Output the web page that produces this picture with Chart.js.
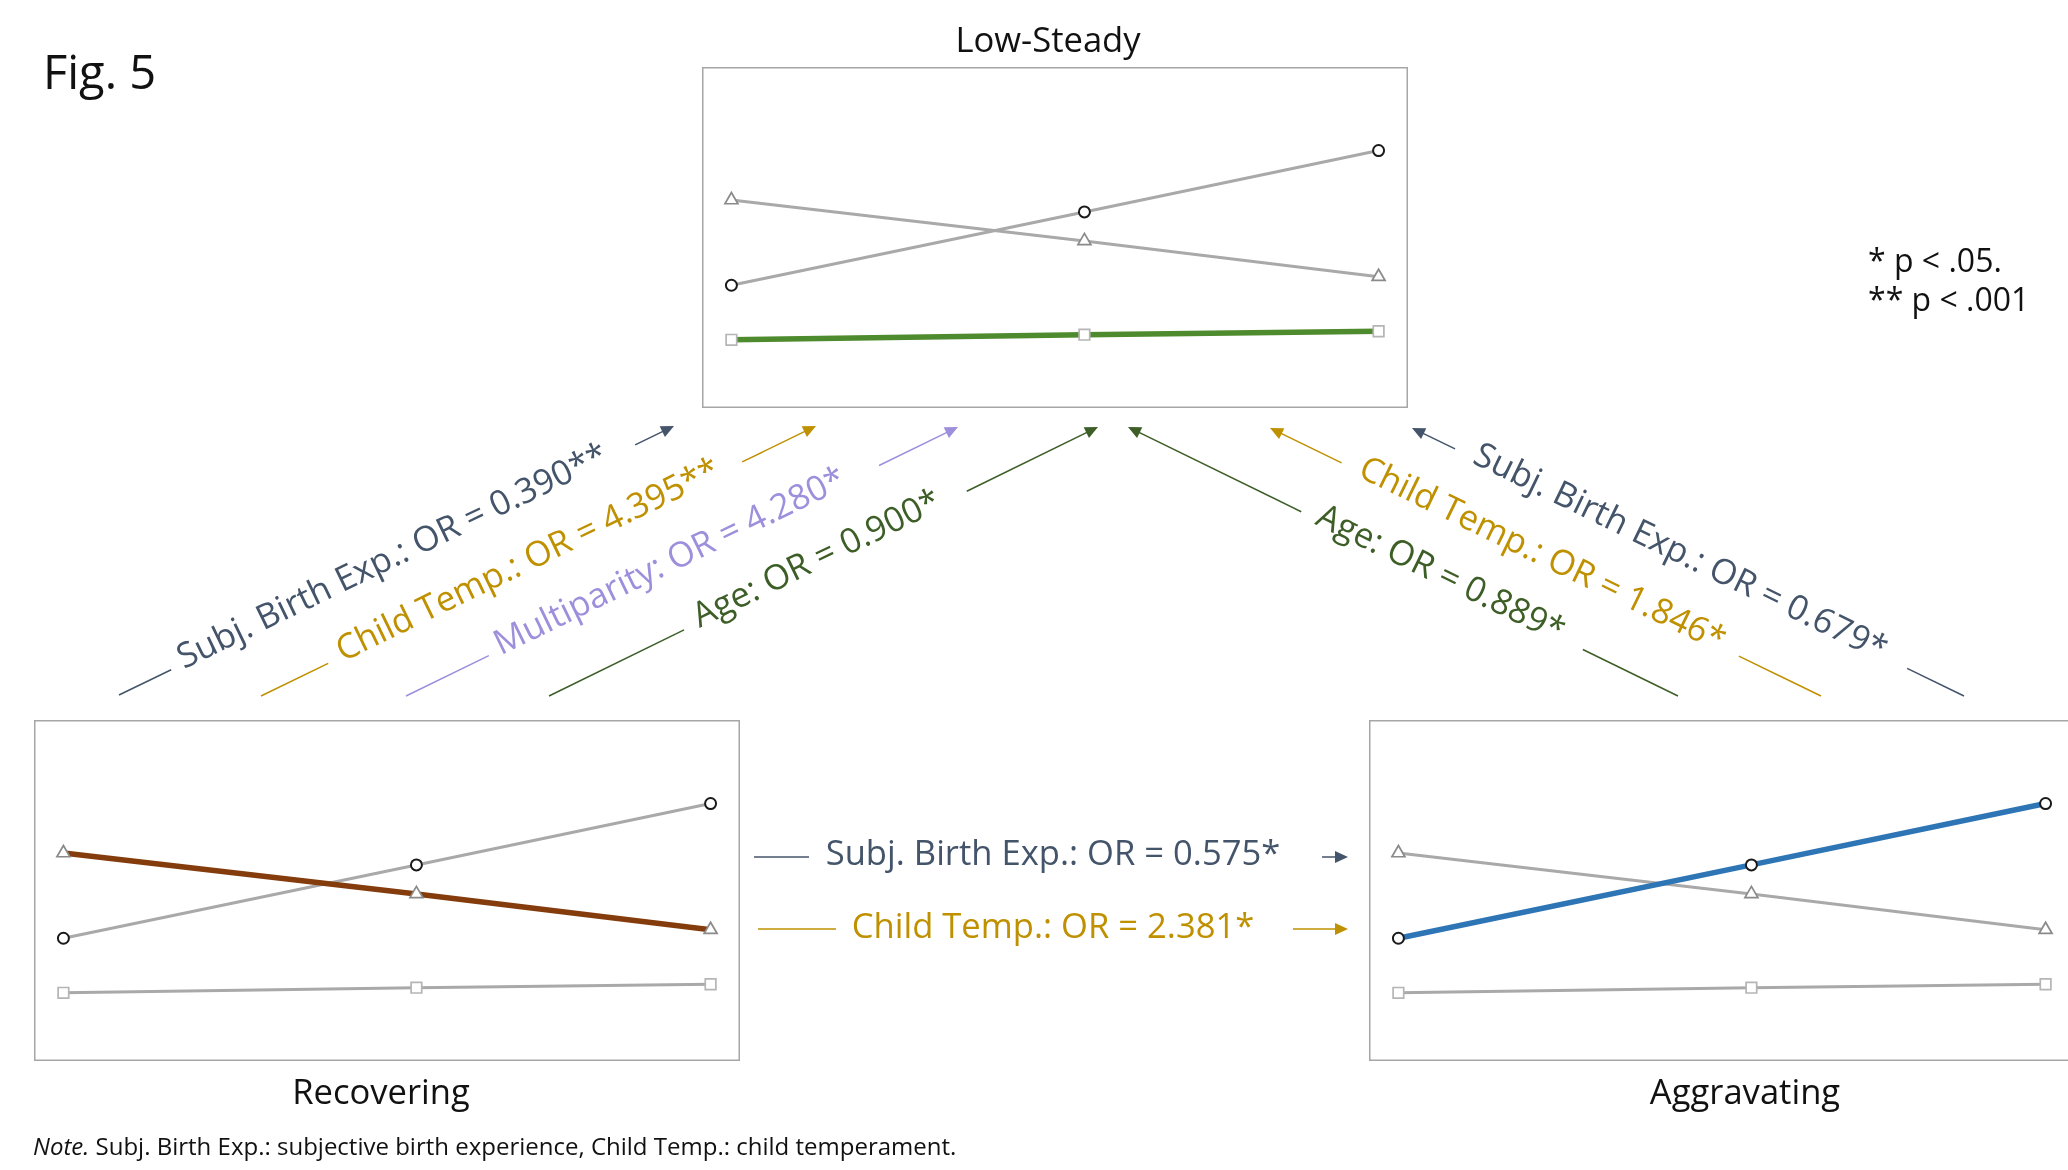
<!DOCTYPE html>
<html>
<head>
<meta charset="utf-8">
<title>Fig. 5</title>
<script src="https://cdn.jsdelivr.net/npm/chart.js@4.4.1/dist/chart.umd.min.js"></script>
<style>
  html, body { margin: 0; padding: 0; background: #fff; overflow: hidden; }
  #page { position: relative; width: 2068px; height: 1170px; overflow: hidden; font-family: 'Open Sans', 'Noto Sans', sans-serif; }
  .panel { position: absolute; }
  #overlay { position: absolute; left: 0; top: 0; }
  #overlay text { font-family: 'Open Sans', 'Noto Sans', sans-serif; }
</style>
</head>
<body>
<div id="page">
  <canvas id="lowSteady" class="panel"></canvas>
  <canvas id="recovering" class="panel"></canvas>
  <canvas id="aggravating" class="panel"></canvas>
  <svg id="overlay" width="2068" height="1170" xmlns="http://www.w3.org/2000/svg"></svg>
</div>
<script>
// ---- data ----------------------------------------------------------------
const timepoints = [0, 6, 11];
const circleSeries = [3.6, 5.75, 7.55];
const triangleSeries = [6.1, 4.9, 3.85];
const squareSeries = [2.0, 2.15, 2.25];

const classNames = ['Low-Steady', 'Recovering', 'Aggravating'];

// Recovering vs. Low-Steady
const recoveringPredictors = ['Subj. Birth Exp.', 'Child Temp.', 'Multiparity', 'Age'];
const recoveringOR = [0.390, 4.395, 4.280, 0.900];
const recoveringSig = ['**', '**', '*', '*'];

// Aggravating vs. Low-Steady
const aggravatingPredictors = ['Age', 'Child Temp.', 'Subj. Birth Exp.'];
const aggravatingOR = [0.889, 1.846, 0.679];
const aggravatingSig = ['*', '*', '*'];

// Recovering vs. Aggravating
const crossPredictors = ['Subj. Birth Exp.', 'Child Temp.'];
const crossOR = [0.575, 2.381];
const crossSig = ['*', '*'];

const sigNotes = ['* p < .05.', '** p < .001'];
const noteItalic = 'Note.';
const noteText = ' Subj. Birth Exp.: subjective birth experience, Child Temp.: child temperament.';

// ---- styles --------------------------------------------------------------
const GREY_LINE = '#a9a9a9';
const predictorColors = {
  'Subj. Birth Exp.': '#44546a',
  'Child Temp.': '#bf9000',
  'Multiparity': '#9d8fdc',
  'Age': '#3d5e26'
};
const panelLayout = [
  { id: 'lowSteady',   left: 702,  top: 67,  highlight: 2, color: '#4e8a2e', title: [1048, 52] },
  { id: 'recovering',  left: 34,   top: 720, highlight: 1, color: '#843c0c', title: [381, 1104] },
  { id: 'aggravating', left: 1369, top: 720, highlight: 0, color: '#2e75b6', title: [1745, 1104] }
];
const PANEL_W = 706, PANEL_H = 341;
const LABEL_SIZE = 34.6;

const markerStyles = [
  { pointStyle: 'circle',   radius: 5.5, border: '#1a1a1a', width: 2 },
  { pointStyle: 'triangle', radius: 7.5, border: '#8a8a8a', width: 1.7 },
  { pointStyle: 'rect',     radius: 7.5, border: '#b5b5b5', width: 1.7 }
];

// ---- trajectory panels ---------------------------------------------------
const frame = {
  id: 'panelFrame',
  beforeDatasetsDraw(chart) {
    const { ctx, chartArea: a } = chart;
    ctx.save();
    ctx.strokeStyle = '#a6a6a6';
    ctx.lineWidth = 1.5;
    ctx.strokeRect(a.left + 0.75, a.top + 0.75, a.right - a.left - 1.5, a.bottom - a.top - 1.5);
    ctx.restore();
  }
};

const seriesList = [circleSeries, triangleSeries, squareSeries];

panelLayout.forEach(p => {
  const canvas = document.getElementById(p.id);
  canvas.width = PANEL_W;
  canvas.height = PANEL_H;
  canvas.style.left = p.left + 'px';
  canvas.style.top = p.top + 'px';
  const datasets = seriesList.map((vals, i) => {
    const m = markerStyles[i];
    const hi = i === p.highlight;
    return {
      data: timepoints.map((t, k) => ({ x: t, y: vals[k] })),
      borderColor: hi ? p.color : GREY_LINE,
      borderWidth: hi ? 5.5 : 3,
      pointStyle: m.pointStyle,
      pointRadius: m.radius,
      pointBorderColor: m.border,
      pointBorderWidth: m.width,
      pointBackgroundColor: '#ffffff',
      tension: 0,
      order: hi ? 0 : i + 1,
      clip: false
    };
  });
  new Chart(canvas, {
    type: 'line',
    data: { datasets },
    options: {
      responsive: false,
      animation: false,
      events: [],
      layout: { padding: 0, autoPadding: false },
      plugins: { legend: { display: false }, tooltip: { enabled: false } },
      scales: {
        x: { type: 'linear', min: -0.5, max: 11.5, display: false },
        y: { type: 'linear', min: 0, max: 10, display: false }
      }
    },
    plugins: [frame]
  });
});

// ---- annotations ---------------------------------------------------------
const svg = document.getElementById('overlay');
const NS = 'http://www.w3.org/2000/svg';
function el(name, attrs, parent) {
  const e = document.createElementNS(NS, name);
  for (const k in attrs) e.setAttribute(k, attrs[k]);
  (parent || svg).appendChild(e);
  return e;
}
function text(str, x, y, attrs) {
  const t = el('text', Object.assign({ x, y }, attrs));
  t.textContent = str;
  return t;
}
function arrowHead(tip, ux, uy, color) {
  const L = 13, W = 6;
  const bx = tip[0] - ux * L, by = tip[1] - uy * L;
  const px = -uy, py = ux;
  el('polygon', {
    points: `${tip[0]},${tip[1]} ${bx + px * W},${by + py * W} ${bx - px * W},${by - py * W}`,
    fill: color
  });
}
const fmtOR = (name, v, s) => `${name}: OR = ${v.toFixed(3)}${s}`;

// Titles and notes
panelLayout.forEach((p, i) => {
  text(classNames[i], p.title[0], p.title[1], { 'font-size': LABEL_SIZE, 'text-anchor': 'middle', fill: '#111' });
});
text('Fig. 5', 43, 89, { 'font-size': 47, fill: '#111' });
text(sigNotes[0], 1868, 272, { 'font-size': 32, fill: '#111' });
text(sigNotes[1], 1868, 311, { 'font-size': 32, fill: '#111' });
const note = text('', 33, 1155, { 'font-size': 24, fill: '#111' });
const ni = el('tspan', { 'font-style': 'italic' }, note); ni.textContent = noteItalic;
const nr = el('tspan', {}, note); nr.textContent = noteText;

// Diagonal paths: start point, arrow tip, text centre fraction, gap ends (fractions)
const leftPaths = [
  { from: [119, 695], to: [674, 426], t: 0.497, gap: [0.094, 0.93] },
  { from: [261, 696], to: [816, 426], t: 0.485, gap: [0.121, 0.867] },
  { from: [406, 696], to: [958, 427], t: 0.482, gap: [0.150, 0.857] },
  { from: [549, 696], to: [1098, 427], t: 0.492, gap: [0.246, 0.761] }
];
const rightPaths = [
  { from: [1678, 696], to: [1128, 427], t: 0.436, gap: [0.173, 0.685] },
  { from: [1821, 696], to: [1270, 428], t: 0.51,  gap: [0.149, 0.870] },
  { from: [1964, 696], to: [1412, 428], t: 0.518, gap: [0.103, 0.922] }
];

function diagonal(path, label, color) {
  const [x0, y0] = path.from, [x1, y1] = path.to;
  const dx = x1 - x0, dy = y1 - y0, len = Math.hypot(dx, dy);
  const ux = dx / len, uy = dy / len;
  const at = f => [x0 + dx * f, y0 + dy * f];
  const a = at(path.gap[0]), b = at(path.gap[1]);
  el('line', { x1: x0, y1: y0, x2: a[0], y2: a[1], stroke: color, 'stroke-width': 1.5 });
  el('line', { x1: b[0], y1: b[1], x2: x1 - ux * 10, y2: y1 - uy * 10, stroke: color, 'stroke-width': 1.5 });
  arrowHead([x1, y1], ux, uy, color);
  const c = at(path.t);
  let ang = Math.atan2(dy, dx) * 180 / Math.PI;
  if (ang > 90 || ang < -90) ang += 180;
  text(label, 0, 0, {
    'font-size': LABEL_SIZE, fill: color, 'text-anchor': 'middle', dy: '0.15em',
    transform: `translate(${c[0].toFixed(1)},${c[1].toFixed(1)}) rotate(${ang.toFixed(2)})`
  });
}

recoveringPredictors.forEach((name, i) => {
  diagonal(leftPaths[i], fmtOR(name, recoveringOR[i], recoveringSig[i]), predictorColors[name]);
});
aggravatingPredictors.forEach((name, i) => {
  diagonal(rightPaths[i], fmtOR(name, aggravatingOR[i], aggravatingSig[i]), predictorColors[name]);
});

// Horizontal paths between Recovering and Aggravating
const crossRows = [
  { y: 857, dash: [754, 809], arrow: [1322, 1348], baseline: 865 },
  { y: 929, dash: [758, 836], arrow: [1293, 1348], baseline: 938 }
];
crossPredictors.forEach((name, i) => {
  const r = crossRows[i], color = predictorColors[name];
  el('line', { x1: r.dash[0], y1: r.y, x2: r.dash[1], y2: r.y, stroke: color, 'stroke-width': 1.5 });
  el('line', { x1: r.arrow[0], y1: r.y, x2: r.arrow[1] - 10, y2: r.y, stroke: color, 'stroke-width': 1.5 });
  arrowHead([r.arrow[1], r.y], 1, 0, color);
  text(fmtOR(name, crossOR[i], crossSig[i]), 1053, r.baseline, { 'font-size': LABEL_SIZE, fill: color, 'text-anchor': 'middle' });
});
</script>
</body>
</html>
